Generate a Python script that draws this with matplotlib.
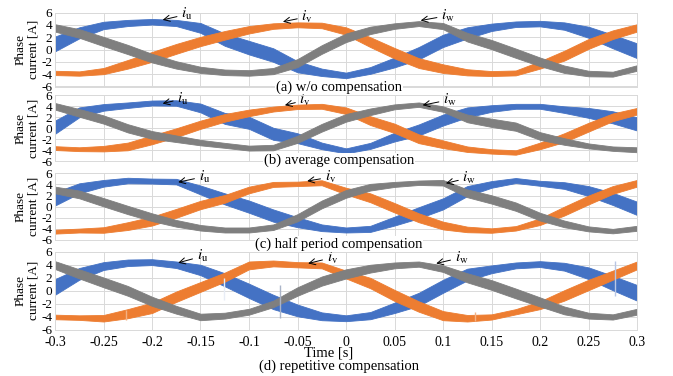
import matplotlib.pyplot as plt
from matplotlib.ticker import FuncFormatter, MultipleLocator

plt.rcParams["font.family"] = ["Liberation Serif", "DejaVu Serif"]
plt.rcParams["mathtext.fontset"] = "stix"

# sample instants [s]
time = [-0.3, -0.275, -0.25, -0.225, -0.2, -0.175, -0.15, -0.125, -0.1, -0.075, -0.05, -0.025,
        0.0, 0.025, 0.05, 0.075, 0.1, 0.125, 0.15, 0.175, 0.2, 0.225, 0.25, 0.275, 0.3]

# (a) w/o compensation
iu_a = [0.9, 2.7, 3.9, 4.3, 4.5, 4.3, 3.5, 1.6, 0.3, -0.9, -2.8, -3.7, -4.2,
        -3.4, -2.1, -0.6, 1.4, 2.7, 3.6, 4.1, 4.2, 3.8, 2.8, 1.3, -0.2]
iv_a = [-3.8, -3.9, -3.5, -2.4, -1.2, 0.1, 1.3, 2.3, 3.2, 3.8, 4.0, 3.9, 3.0,
        1.2, -0.6, -2.2, -3.1, -3.7, -3.9, -3.8, -2.5, -1.0, 0.9, 2.4, 3.5]
iw_a = [3.5, 2.6, 1.3, 0.0, -1.4, -2.5, -3.3, -3.7, -3.8, -3.5, -2.2, 0.0, 1.9,
        3.1, 3.8, 4.2, 3.8, 2.0, 0.8, -0.6, -2.0, -3.2, -3.9, -4.0, -3.0]

# (b) average compensation
iu_b = [0.2, 2.9, 3.8, 4.2, 4.6, 4.6, 3.7, 1.8, 1.0, -1.0, -1.8, -3.2, -4.1,
        -3.2, -1.6, -0.3, 1.5, 2.9, 3.6, 4.0, 4.0, 3.4, 2.8, 2.0, 0.8]
iv_b = [-3.6, -3.8, -3.7, -3.3, -2.1, -0.8, 0.65, 1.9, 2.8, 3.5, 3.9, 4.0, 3.2,
        1.4, 0.0, -1.9, -2.9, -3.8, -4.2, -4.4, -3.2, -1.7, 0.2, 2.0, 3.1]
iw_b = [4.0, 2.8, 1.6, 0.0, -1.2, -1.9, -2.6, -3.1, -3.6, -3.5, -2.0, 0.1, 1.9,
        3.0, 3.9, 4.3, 3.5, 1.8, 1.0, 0.3, -1.4, -2.4, -3.2, -3.7, -3.9]

# (c) half period compensation
iu_c = [1.4, 3.3, 4.2, 4.7, 4.6, 4.5, 3.0, 1.4, 0.0, -1.6, -2.8, -3.8, -4.2,
        -4.0, -2.6, -1.1, 0.5, 2.8, 4.0, 4.7, 4.2, 3.8, 2.8, 1.4, -0.3]
iv_c = [-4.5, -4.3, -4.2, -3.5, -2.6, -1.2, 0.3, 1.4, 3.0, 4.0, 4.1, 4.3, 2.8,
        1.6, -0.2, -2.0, -3.4, -4.1, -4.3, -3.9, -2.7, -0.8, 1.2, 3.0, 4.2]
iw_c = [3.0, 2.2, 0.8, -0.6, -1.9, -3.0, -3.8, -4.2, -4.2, -3.7, -2.0, 0.4, 2.3,
        3.5, 4.0, 4.3, 4.3, 2.4, 1.3, 0.0, -1.8, -3.1, -4.0, -4.4, -3.9]

# (d) repetitive compensation
iu_d = [0.6, 2.6, 3.8, 4.3, 4.4, 4.0, 3.2, 1.7, 0.0, -1.7, -3.0, -3.9, -4.2,
        -3.8, -2.6, -1.3, 0.7, 2.5, 3.3, 3.9, 4.1, 3.7, 2.7, 1.2, -0.3]
iv_d = [-4.0, -4.1, -4.2, -3.5, -2.6, -0.9, 0.6, 2.1, 3.9, 4.2, 4.0, 3.9, 2.5,
        1.2, -0.7, -2.4, -3.8, -4.2, -4.0, -3.2, -2.2, -0.7, 0.9, 2.4, 3.9]
iw_d = [3.95, 2.6, 1.3, 0.0, -1.6, -2.9, -4.0, -3.8, -3.2, -2.0, -0.1, 1.5, 2.6,
        3.4, 3.9, 4.1, 3.4, 2.0, 0.9, -0.4, -1.7, -3.0, -3.8, -4.0, -3.2]

# ripple half-width of each phase band [A]
ripple_u = [1.2, 0.9, 0.6, 0.5, 0.45, 0.5, 0.8, 1.0, 1.1, 1.1, 0.9, 0.6, 0.45,
            0.55, 0.8, 1.0, 1.0, 0.9, 0.6, 0.45, 0.45, 0.6, 0.9, 1.1, 1.2]
ripple_v = [0.35, 0.35, 0.5, 0.7, 0.8, 0.8, 0.75, 0.7, 0.6, 0.45, 0.4, 0.45, 0.6,
            0.8, 0.85, 0.8, 0.7, 0.5, 0.4, 0.4, 0.6, 0.8, 0.8, 0.7, 0.6]
ripple_w = [0.6, 0.7, 0.75, 0.75, 0.7, 0.6, 0.5, 0.45, 0.45, 0.5, 0.65, 0.7, 0.7,
            0.6, 0.45, 0.4, 0.5, 0.7, 0.75, 0.75, 0.7, 0.6, 0.45, 0.4, 0.45]

captions = ["(a) w/o compensation", "(b) average compensation",
            "(c) half period compensation", "(d) repetitive compensation"]

# label anchor (tip) and text position for i_u, i_v, i_w in each panel
tips = [[(-0.189, 4.8), (-0.065, 4.5), (0.077, 4.7)],
        [(-0.189, 4.5), (-0.063, 4.2), (0.079, 4.2)],
        [(-0.173, 4.4), (-0.040, 4.6), (0.103, 4.2)],
        [(-0.173, 4.3), (-0.039, 4.2), (0.093, 4.2)]]
texts = [[(-0.170, 5.7), (-0.046, 5.3), (0.098, 5.5)],
         [(-0.174, 5.4), (-0.048, 5.1), (0.100, 5.2)],
         [(-0.152, 5.4), (-0.022, 5.3), (0.120, 5.2)],
         [(-0.154, 5.3), (-0.020, 5.1), (0.112, 5.1)]]
phase_names = [r"$i_{\mathrm{u}}$", r"$i_{\mathrm{v}}$", r"$i_{\mathrm{w}}$"]

# switching spikes seen in the repetitive-compensation record
spike_t = [-0.126, -0.068, 0.277, -0.227, 0.133]
spike_lo = [-1.4, -4.2, -0.8, -4.4, -4.6]
spike_hi = [1.9, 0.9, 4.6, -3.0, -3.2]
spike_c = ["#e8edf6", "#aab4c8", "#b8c6e4", "#f4b183", "#f4b183"]

colors = ["#4472C4", "#ED7D31", "#7F7F7F"]
currents = [(iu_a, iv_a, iw_a), (iu_b, iv_b, iw_b), (iu_c, iv_c, iw_c), (iu_d, iv_d, iw_d)]
ripples = [ripple_u, ripple_v, ripple_w]

W, H = 673, 376
left_px, right_px = 55, 637
# (top, bottom) of each plot box in pixels
boxes = [(12.5, 86.5), (95.3, 161.3), (173.3, 240.0), (251.7, 330.0)]
caption_y = [87, 160, 244, 366]

fig = plt.figure(figsize=(W / 100, H / 100), dpi=100)
fig.patch.set_facecolor("white")

for k, (top, bot) in enumerate(boxes):
    ax = fig.add_axes([left_px / W, 1 - bot / H, (right_px - left_px) / W, (bot - top) / H])
    ax.set_xlim(-0.3, 0.3)
    ax.set_ylim(-6, 6)
    ax.xaxis.set_major_locator(MultipleLocator(0.05))
    ax.yaxis.set_major_locator(MultipleLocator(2))
    ax.grid(True, color="#d9d9d9", lw=0.7)
    ax.set_axisbelow(True)
    for sp in ax.spines.values():
        sp.set_color("#d9d9d9")
        sp.set_linewidth(0.7)
    ax.tick_params(length=0, labelsize=9.5, pad=2)
    ax.yaxis.set_major_formatter(FuncFormatter(lambda v, p: f"{v:.0f}".replace("-0", "0")))

    for vals, rip, col in zip(currents[k], ripples, colors):
        lo = [v - r for v, r in zip(vals, rip)]
        hi = [v + r for v, r in zip(vals, rip)]
        ax.fill_between(time, lo, hi, color=col, lw=0.6, edgecolor=col)

    if k == 3:
        ax.vlines(spike_t, spike_lo, spike_hi, colors=spike_c, lw=1.0)
        ax.xaxis.set_major_formatter(
            FuncFormatter(lambda v, p: "0" if abs(v) < 1e-9 else f"{v:g}"))
        ax.tick_params(axis="x", labelsize=10, pad=4)
    else:
        ax.tick_params(axis="x", labelbottom=False)

    for name, tip, txt in zip(phase_names, tips[k], texts[k]):
        ax.annotate(name, xy=tip, xytext=txt, fontsize=11, ha="left", va="center",
                    arrowprops=dict(arrowstyle="->", lw=0.7, color="black",
                                    shrinkA=1, shrinkB=0))

    fig.text(27 / W, 1 - (top + bot) / 2 / H, "Phase\ncurrent [A]", rotation=90,
             ha="center", va="center", fontsize=9.5, linespacing=1.0)
    fig.text(339 / W, 1 - caption_y[k] / H, captions[k], ha="center", va="center",
             fontsize=10.5,
             bbox=dict(facecolor="white", edgecolor="none", pad=0.5))

fig.text(329 / W, 1 - 353 / H, "Time [s]", ha="center", va="center", fontsize=10.5)

fig.savefig("out.png", dpi=100)
